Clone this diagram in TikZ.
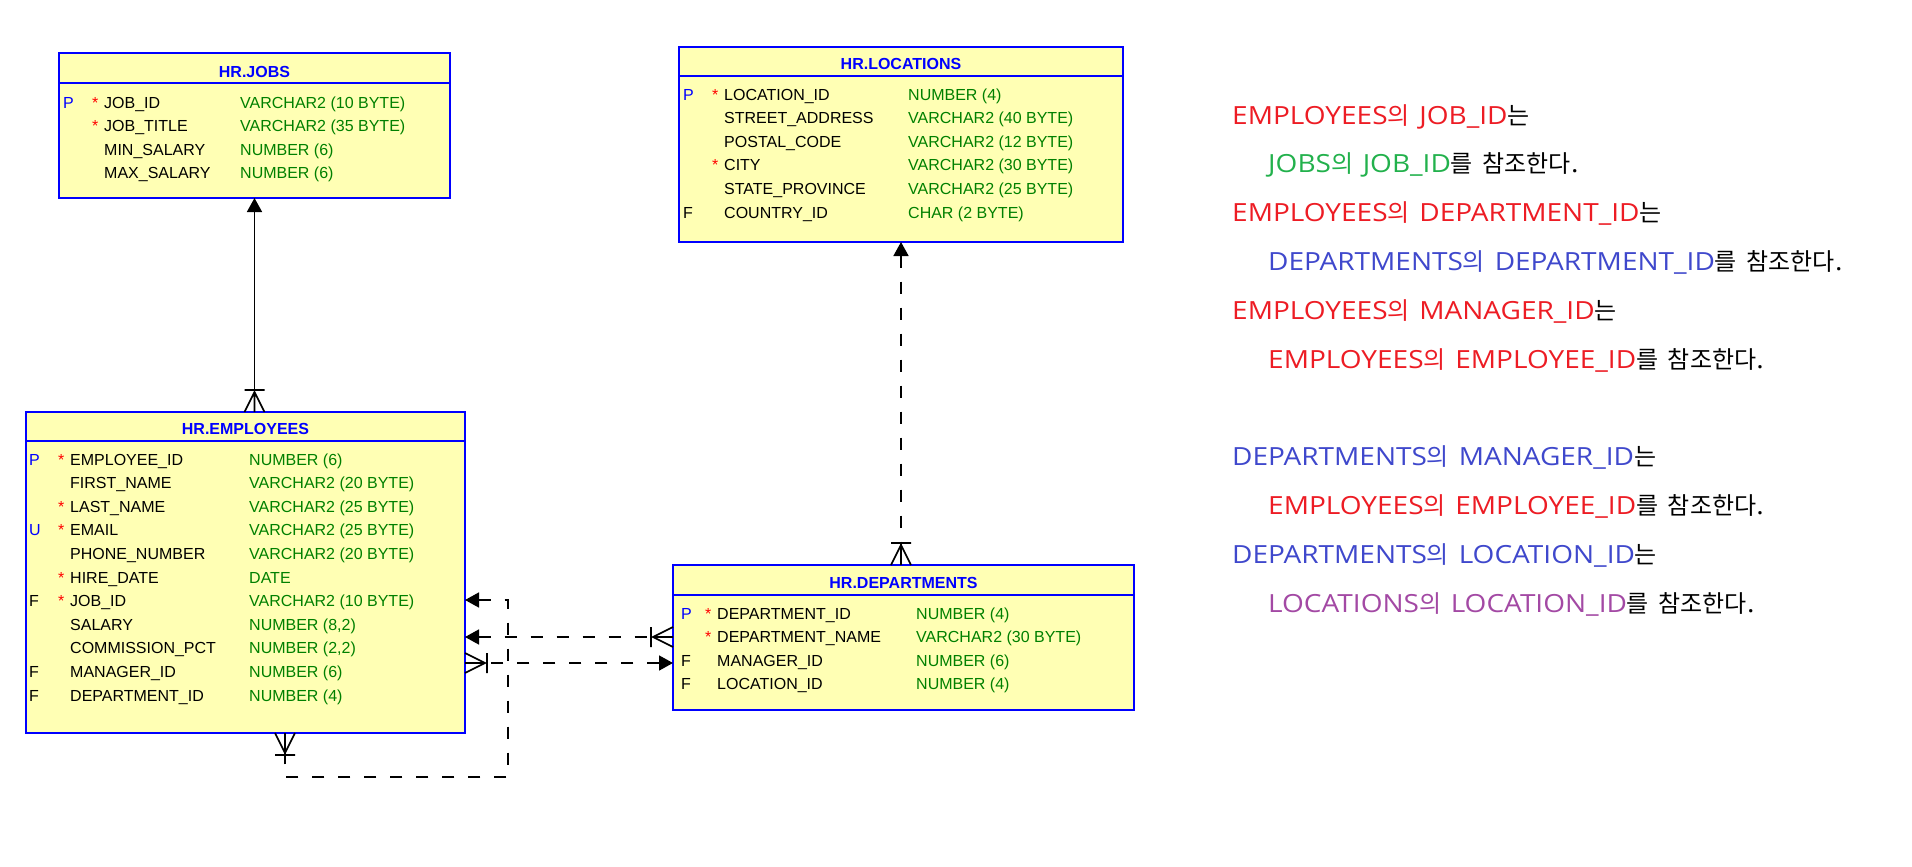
\documentclass[tikz,border=0pt]{standalone}
\usepackage{fontspec}
\setmainfont{Liberation Sans}
\newfontfamily\kr[WordSpace=1.8]{Noto Sans CJK KR}
\newfontfamily\latf[FakeStretch=1.12]{Open Sans}
\newcommand\lt[1]{{\latf\fontsize{25}{25}\selectfont #1}}
\usetikzlibrary{arrows.meta}
\definecolor{tblblue}{HTML}{0000FF}
\definecolor{tblfill}{HTML}{FFFFB4}
\definecolor{typegreen}{HTML}{008000}
\definecolor{starred}{HTML}{FF0000}
\definecolor{pred}{HTML}{ED1C24}
\definecolor{pgreen}{HTML}{22B14C}
\definecolor{pindigo}{HTML}{3F48CC}
\definecolor{ppurple}{HTML}{A349A4}
\newcommand\erow[4]{%
  \pgfmathsetmacro\ry{\by+23.6*#2}%
  \node[cell] (#1n#2) at (\nx,\ry) {#3};
  \node[cell,text=typegreen] (#1t#2) at (\tx,\ry) {#4};}
\newcommand\ekey[4]{%
  \pgfmathsetmacro\ry{\by+23.6*#2}%
  \node[cell,text=#3] (#1k#2) at (\kx,\ry) {#4};}
\newcommand\estar[2]{%
  \pgfmathsetmacro\ry{\by+23.6*#2}%
  \node[cell,text=starred] (#1s#2) at (\sx,\ry) {*};}
\begin{document}
\begin{tikzpicture}[x=1pt,y=-1pt,
  tbl/.style={draw=tblblue,fill=tblfill,line width=1.5pt,inner sep=0pt,outer sep=0pt,anchor=north west},
  hdr/.style={draw=tblblue,line width=1.5pt},
  ttl/.style={font=\fontsize{16}{16}\selectfont\bfseries,text=tblblue,inner sep=0pt},
  cell/.style={anchor=base west,inner sep=0pt,font=\fontsize{16}{16}\selectfont},
  rel/.style={line width=1.6pt,draw=black},
  reldash/.style={rel,dash pattern=on 12pt off 14pt},
  tip/.style={{Triangle[length=14pt,width=15pt]}-},
  note/.style={anchor=base west,inner sep=0pt,font=\kr\fontsize{24}{24}\selectfont},
  crowfoot/.pic={\draw[line width=1.6pt] (-10,0) -- (0,20) -- (10,0) (0,0) -- (0,20) (-10,22) -- (10,22);}
]
\fill[white] (0,0) rectangle (1912,867);
\useasboundingbox (0,0) rectangle (1912,867);

% ---------- JOBS ----------
\node[tbl,minimum width=391pt,minimum height=145pt] (jobs) at (59,53) {};
\draw[hdr] (jobs.west |- 0,83) -- (jobs.east |- 0,83);
\node[ttl] (jobsttl) at (jobs.north |- 0,72) {HR.JOBS};
\def\by{108}\def\kx{63}\def\sx{92}\def\nx{104}\def\tx{240}
\ekey{j}{0}{tblblue}{P}\estar{j}{0}\erow{j}{0}{JOB\_ID}{VARCHAR2 (10 BYTE)}
\estar{j}{1}\erow{j}{1}{JOB\_TITLE}{VARCHAR2 (35 BYTE)}
\erow{j}{2}{MIN\_SALARY}{NUMBER (6)}
\erow{j}{3}{MAX\_SALARY}{NUMBER (6)}

% ---------- LOCATIONS ----------
\node[tbl,minimum width=444pt,minimum height=195pt] (loc) at (679,47) {};
\draw[hdr] (loc.west |- 0,76) -- (loc.east |- 0,76);
\node[ttl] (locttl) at (loc.north |- 0,64) {HR.LOCATIONS};
\def\by{100}\def\kx{683}\def\sx{712}\def\nx{724}\def\tx{908}
\ekey{l}{0}{tblblue}{P}\estar{l}{0}\erow{l}{0}{LOCATION\_ID}{NUMBER (4)}
\erow{l}{1}{STREET\_ADDRESS}{VARCHAR2 (40 BYTE)}
\erow{l}{2}{POSTAL\_CODE}{VARCHAR2 (12 BYTE)}
\estar{l}{3}\erow{l}{3}{CITY}{VARCHAR2 (30 BYTE)}
\erow{l}{4}{STATE\_PROVINCE}{VARCHAR2 (25 BYTE)}
\ekey{l}{5}{black}{F}\erow{l}{5}{COUNTRY\_ID}{CHAR (2 BYTE)}

% ---------- EMPLOYEES ----------
\node[tbl,minimum width=439pt,minimum height=321pt] (emp) at (26,412) {};
\draw[hdr] (emp.west |- 0,441) -- (emp.east |- 0,441);
\node[ttl] (empttl) at (emp.north |- 0,429) {HR.EMPLOYEES};
\def\by{465}\def\kx{29}\def\sx{58}\def\nx{70}\def\tx{249}
\ekey{e}{0}{tblblue}{P}\estar{e}{0}\erow{e}{0}{EMPLOYEE\_ID}{NUMBER (6)}
\erow{e}{1}{FIRST\_NAME}{VARCHAR2 (20 BYTE)}
\estar{e}{2}\erow{e}{2}{LAST\_NAME}{VARCHAR2 (25 BYTE)}
\ekey{e}{3}{tblblue}{U}\estar{e}{3}\erow{e}{3}{EMAIL}{VARCHAR2 (25 BYTE)}
\erow{e}{4}{PHONE\_NUMBER}{VARCHAR2 (20 BYTE)}
\estar{e}{5}\erow{e}{5}{HIRE\_DATE}{DATE}
\ekey{e}{6}{black}{F}\estar{e}{6}\erow{e}{6}{JOB\_ID}{VARCHAR2 (10 BYTE)}
\erow{e}{7}{SALARY}{NUMBER (8,2)}
\erow{e}{8}{COMMISSION\_PCT}{NUMBER (2,2)}
\ekey{e}{9}{black}{F}\erow{e}{9}{MANAGER\_ID}{NUMBER (6)}
\ekey{e}{10}{black}{F}\erow{e}{10}{DEPARTMENT\_ID}{NUMBER (4)}

% ---------- DEPARTMENTS ----------
\node[tbl,minimum width=461pt,minimum height=145pt] (dept) at (673,565) {};
\draw[hdr] (dept.west |- 0,595) -- (dept.east |- 0,595);
\node[ttl] (deptttl) at (dept.north |- 0,583) {HR.DEPARTMENTS};
\def\by{619}\def\kx{681}\def\sx{705}\def\nx{717}\def\tx{916}
\ekey{d}{0}{tblblue}{P}\estar{d}{0}\erow{d}{0}{DEPARTMENT\_ID}{NUMBER (4)}
\estar{d}{1}\erow{d}{1}{DEPARTMENT\_NAME}{VARCHAR2 (30 BYTE)}
\ekey{d}{2}{black}{F}\erow{d}{2}{MANAGER\_ID}{NUMBER (6)}
\ekey{d}{3}{black}{F}\erow{d}{3}{LOCATION\_ID}{NUMBER (4)}

% ---------- relations ----------
% EMPLOYEES -> JOBS
\draw[rel,tip] (jobs.south) -- (jobs.south |- emp.north);
\pic[rotate=180] at (jobs.south |- emp.north) {crowfoot};
% DEPARTMENTS -> LOCATIONS
\draw[reldash,tip] (loc.south) -- (loc.south |- dept.north);
\pic[rotate=180] at (loc.south |- dept.north) {crowfoot};
% EMPLOYEES self reference (MANAGER_ID)
\coordinate (s1) at (emp.east |- 0,600);
\coordinate (s2) at (508,600);
\coordinate (s3) at (508,777);
\coordinate (s4) at (285,777);
\coordinate (s5) at (emp.south -| 285,0);
\draw[reldash,tip] (s1) -- (s2) -- (s3) -- (s4) -- (s5);
\pic at (s5) {crowfoot};
% DEPARTMENTS.MANAGER_ID -> EMPLOYEES
\coordinate (m1) at (emp.east |- 0,637);
\coordinate (m2) at (dept.west |- 0,637);
\draw[reldash,tip] (m1) -- (m2);
\pic[rotate=-90] at (m2) {crowfoot};
% EMPLOYEES.DEPARTMENT_ID -> DEPARTMENTS
\coordinate (d1) at (emp.east |- 0,663);
\coordinate (d2) at (dept.west |- 0,663);
\draw[reldash,tip] (d2) -- (d1);
\pic[rotate=90] at (d1) {crowfoot};

% ---------- notes ----------
\node[note] (n1) at (1232,124.0) {{\color{pred}\lt{EMPLOYEES}의 \lt{JOB\_ID}}는};
\node[note] (n2) at (1268,172.8) {{\color{pgreen}\lt{JOBS}의 \lt{JOB\_ID}}를 참조한다\lt{.}};
\node[note] (n3) at (1232,221.6) {{\color{pred}\lt{EMPLOYEES}의 \lt{DEPARTMENT\_ID}}는};
\node[note] (n4) at (1268,270.4) {{\color{pindigo}\lt{DEPARTMENTS}의 \lt{DEPARTMENT\_ID}}를 참조한다\lt{.}};
\node[note] (n5) at (1232,319.2) {{\color{pred}\lt{EMPLOYEES}의 \lt{MANAGER\_ID}}는};
\node[note] (n6) at (1268,368.0) {{\color{pred}\lt{EMPLOYEES}의 \lt{EMPLOYEE\_ID}}를 참조한다\lt{.}};
\node[note] (n7) at (1232,465.6) {{\color{pindigo}\lt{DEPARTMENTS}의 \lt{MANAGER\_ID}}는};
\node[note] (n8) at (1268,514.4) {{\color{pred}\lt{EMPLOYEES}의 \lt{EMPLOYEE\_ID}}를 참조한다\lt{.}};
\node[note] (n9) at (1232,563.2) {{\color{pindigo}\lt{DEPARTMENTS}의 \lt{LOCATION\_ID}}는};
\node[note] (n10) at (1268,612.0) {{\color{ppurple}\lt{LOCATIONS}의 \lt{LOCATION\_ID}}를 참조한다\lt{.}};
\end{tikzpicture}
\end{document}
